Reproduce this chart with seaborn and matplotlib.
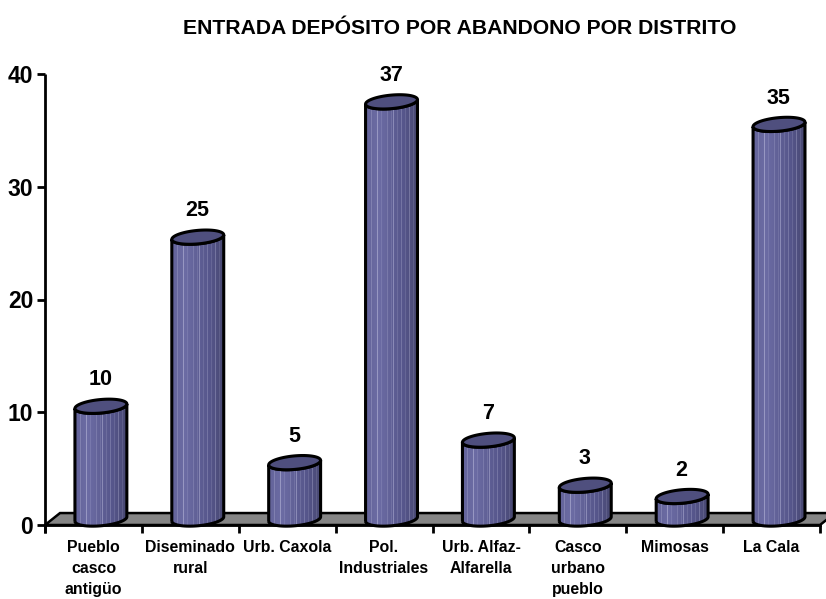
import numpy as np
import pandas as pd
import seaborn as sns
import matplotlib
matplotlib.use("Agg")
import matplotlib.pyplot as plt
from matplotlib.patches import PathPatch, Polygon
from matplotlib.path import Path
from matplotlib.colors import LinearSegmentedColormap

# data
distritos = ["Pueblo\ncasco\nantigüo", "Diseminado\nrural", "Urb. Caxola", "Pol.\nIndustriales",
             "Urb. Alfaz-\nAlfarella", "Casco\nurbano\npueblo", "Mimosas", "La Cala"]
entradas = [10, 25, 5, 37, 7, 3, 2, 35]
y_ticks = [0, 10, 20, 30, 40]
titulo = "ENTRADA DEPÓSITO POR ABANDONO POR DISTRITO"

# look of the fake 3d
shift_x = 0.077
shift_y = 0.53
depth_x = 0.155
depth_y = 1.06
semi_h = 0.6    # half height of ellipse, y units
tilt = 0.2      # right side sits higher than the left
stripes = [0, 0, .5, 0, 0, .9, 0, .3, 0, 0, .4, 0, .3, .8, 0, .3, 0, .5, 0, .3, 0, .6, 0, .3, 0]

sns.set_style("ticks")
plt.rcParams["font.family"] = ["Liberation Sans", "DejaVu Sans"]
plt.rcParams["font.weight"] = "bold"

fig = plt.figure(figsize=(8.26, 5.99), dpi=100)
ax = fig.add_axes([45 / 826, 1 - 525 / 599, 775 / 826, 451 / 599])

df = pd.DataFrame({"distrito": distritos, "entradas": entradas})
sns.barplot(data=df, x="distrito", y="entradas", width=0.536, color="#5a5a90", ax=ax, zorder=3)

ax.set_xlim(-0.5, 7.5)
ax.set_ylim(0, 40)

# floor
floor = Polygon([(-0.5, 0), (7.5, 0), (7.5 + depth_x, depth_y), (-0.5 + depth_x, depth_y)],
                closed=True, fc="#858585", ec="black", lw=1.8, clip_on=False, zorder=1)
ax.add_patch(floor)

cmap = LinearSegmentedColormap.from_list("cil", ["#64649a", "#6c6ca4", "#606096", "#55558a", "#484872"])
t = np.linspace(0, 2 * np.pi, 80)
for bar, v in zip(ax.patches[:len(entradas)], entradas):
    w = bar.get_width()
    cx = bar.get_x() + w / 2 + shift_x
    a = w / 2
    top = v + shift_y
    bot = shift_y
    bar.set_visible(False)

    # body outline: bottom half arc + top half of the back
    tb = np.linspace(np.pi, 2 * np.pi, 40)
    low_x = cx + a * np.cos(tb)
    low_y = bot + semi_h * np.sin(tb) + tilt * np.cos(tb)
    up_x = low_x[::-1]
    up_y = (top + semi_h * np.sin(tb) + tilt * np.cos(tb))[::-1]
    body_xy = np.r_[np.c_[low_x, low_y], np.c_[up_x, up_y]]
    body = PathPatch(Path(np.r_[body_xy, body_xy[:1]]), fc="none", ec="black", lw=2.2, zorder=5, clip_on=False)
    ax.add_patch(body)

    # shaded side with thin light stripes
    base = np.linspace(0, 1, 52)
    rgb = cmap(base)[:, :3]
    for i, s in enumerate(stripes):
        rgb[i * 2 + 1] = rgb[i * 2 + 1] + (np.array([0.85, 0.85, 0.95]) - rgb[i * 2 + 1]) * s * 0.45
    im = ax.imshow(rgb[np.newaxis, :, :], extent=(cx - a, cx + a, bot - 1, top + 1),
                   aspect="auto", zorder=4, interpolation="bilinear")
    im.set_clip_path(body)
    im.set_clip_on(True)

    # lid
    lid_x = cx + a * np.cos(t)
    lid_y = top + semi_h * np.sin(t) + tilt * np.cos(t)
    ax.add_patch(Polygon(np.c_[lid_x, lid_y], closed=True, fc="#4f4f7e", ec="black", lw=2.2,
                         zorder=6, clip_on=False))

    ax.annotate(str(v), (cx - shift_x, top), xytext=(5, 19), textcoords="offset points",
                ha="center", va="center", fontsize=15.5, fontweight="bold", color="black", zorder=7)

ax.set_xlim(-0.5, 7.5)
ax.set_ylim(0, 40)
ax.set_xlabel("")
ax.set_ylabel("")

# ticks between the categories, labels in the middle
ax.set_xticks(np.arange(-0.5, 8, 1))
ax.set_xticklabels([])
ax.set_xticks(np.arange(0, 8), labels=distritos, minor=True)
ax.tick_params(axis="x", which="minor", length=0, pad=11, labelsize=11.4, labelcolor="black")
ax.tick_params(axis="x", which="major", length=6, width=2, color="black")
for lab in ax.get_xticklabels(minor=True):
    lab.set_linespacing(1.47)
    lab.set_fontweight("bold")
    lab.set_verticalalignment("top")

ax.set_yticks(y_ticks)
ax.tick_params(axis="y", length=6, width=2, color="black", pad=2.5, labelsize=16.5, labelcolor="black")
for lab in ax.get_yticklabels():
    lab.set_fontweight("bold")

sns.despine(ax=ax, top=True, right=True)
ax.spines["left"].set_linewidth(2)
ax.spines["left"].set_color("black")
ax.spines["left"].set_zorder(8)
ax.spines["bottom"].set_linewidth(2)
ax.spines["bottom"].set_color("black")
ax.spines["left"].set_bounds(-0.7, 40)
ax.spines["left"].set_capstyle("butt")

fig.text(460 / 826, 1 - 28.5 / 599, titulo, ha="center", va="center", fontsize=15.25, fontweight="bold", color="black")

fig.savefig("out.png", dpi=100)
